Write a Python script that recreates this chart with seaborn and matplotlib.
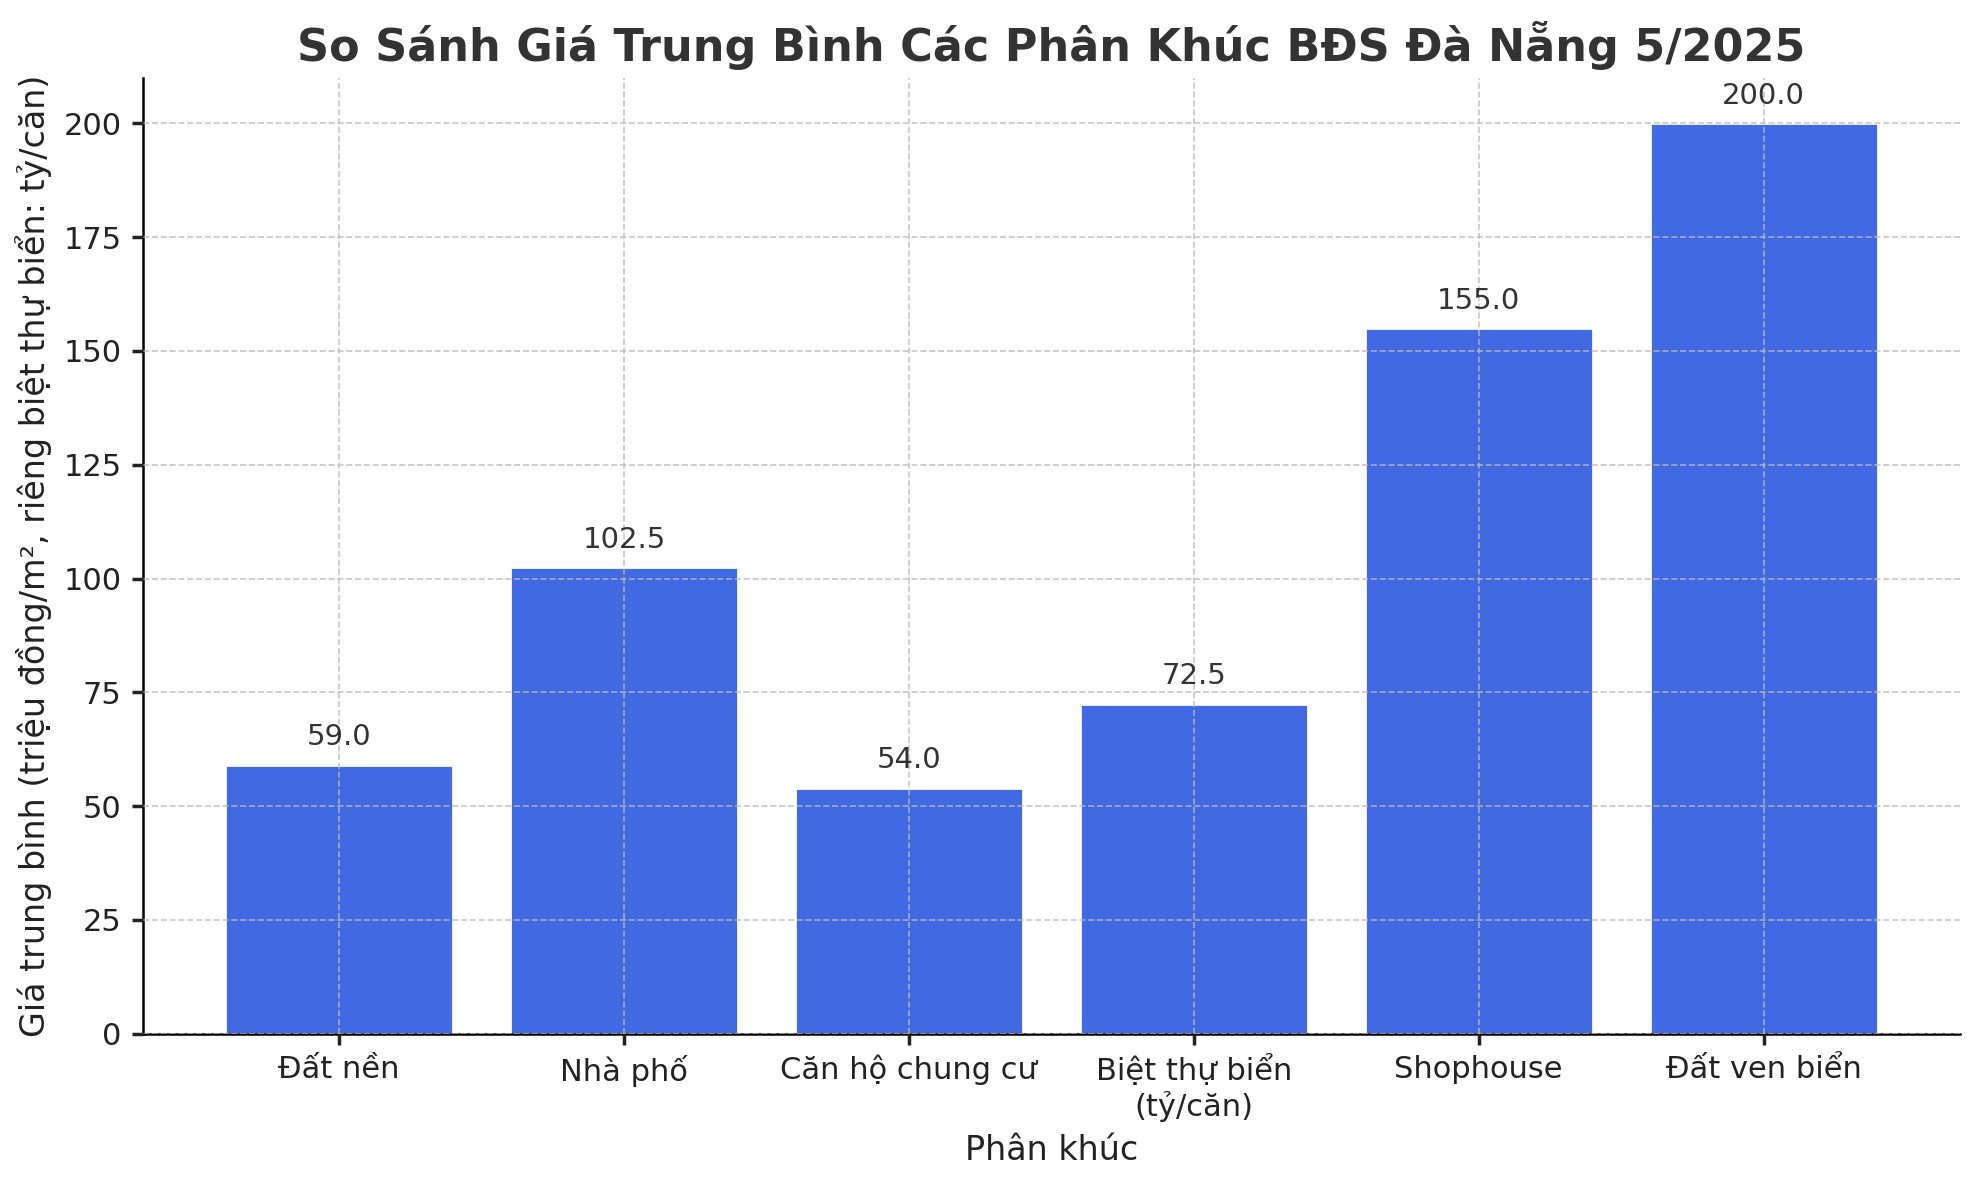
import matplotlib
matplotlib.use("Agg")
import matplotlib.pyplot as plt
import seaborn as sns
import pandas as pd

categories = ["Đất nền", "Nhà phố", "Căn hộ chung cư", "Biệt thự biển\n(tỷ/căn)", "Shophouse", "Đất ven biển"]
values = [59.0, 102.5, 54.0, 72.5, 155.0, 200.0]

sns.set_theme(style="white")
plt.rcParams['font.family'] = ['DejaVu Sans']
df = pd.DataFrame({"cat": categories, "val": values})

fig = plt.figure(figsize=(9.9, 5.9), dpi=200)
ax = fig.add_axes([0.072, 0.124, 0.918, 0.81])
sns.barplot(data=df, x="cat", y="val", color="#4169E1", saturation=1, width=0.8, ax=ax)
ax.set_xlim(-0.69, 5.69)
ax.set_ylim(0, 210)
ax.set_axisbelow(False)
ax.grid(True, linestyle="--", color="#bbbbbb", linewidth=0.6, alpha=0.8)
for s in ["top", "right"]:
    ax.spines[s].set_visible(False)
for s in ["left", "bottom"]:
    ax.spines[s].set_color("black")
    ax.spines[s].set_linewidth(0.9)
ax.tick_params(axis="both", labelsize=11, length=4, colors="#222222", left=True, bottom=True)
for i, v in enumerate(values):
    ax.text(i, v + 3, f"{v:.1f}", ha="center", va="bottom", fontsize=10.5, color="#333333")
ax.set_title("So Sánh Giá Trung Bình Các Phân Khúc BĐS Đà Nẵng 5/2025", fontsize=16, fontweight="bold", color="#333333", pad=6)
ax.set_xlabel("Phân khúc", fontsize=12, color="#222222")
ax.set_ylabel("Giá trung bình (triệu đồng/m², riêng biệt thự biển: tỷ/căn)", fontsize=12, color="#222222")
fig.savefig("out.png", dpi=200)
